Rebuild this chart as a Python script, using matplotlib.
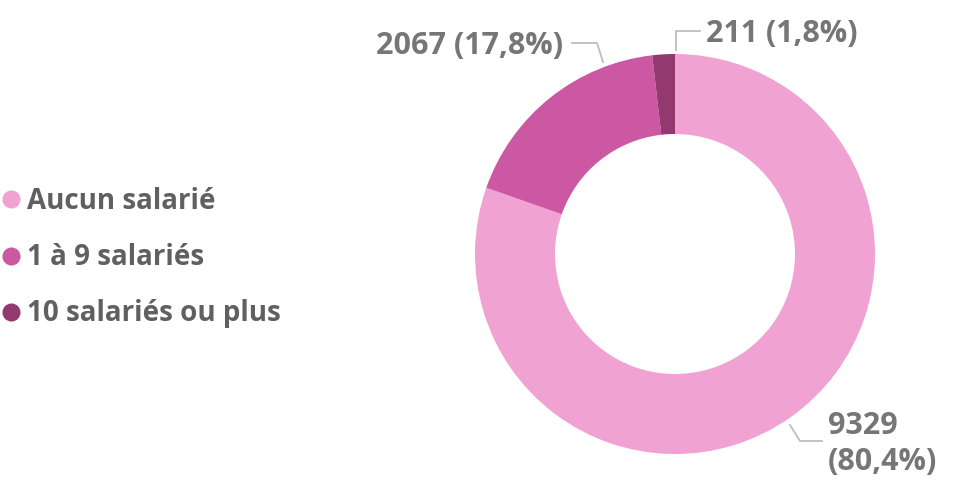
import matplotlib.pyplot as plt
from matplotlib.lines import Line2D

# data
categories = ["Aucun salarié", "1 à 9 salariés", "10 salariés ou plus"]
values = [9329, 2067, 211]
colors = ["#F0A2D2", "#CC57A3", "#943970"]

W, H = 955, 488
plt.rcParams["font.family"] = ["Open Sans", "DejaVu Sans"]

fig = plt.figure(figsize=(W / 100, H / 100), dpi=100)
ax = fig.add_axes([0, 0, 1, 1])
ax.axis("off")

cx, cy, r = 675, H - 254, 200
ax.pie(values, colors=colors, startangle=90, counterclock=False,
       center=(cx, cy), radius=r, wedgeprops=dict(width=80, linewidth=0))
ax.set_xlim(0, W)
ax.set_ylim(0, H)
ax.set_aspect("equal")

total = sum(values)


def lab(v, two_lines=False):
    pct = f"{v / total * 100:.1f}".replace(".", ",")
    sep = "\n" if two_lines else " "
    return f"{v}{sep}({pct}%)"


txt = dict(fontsize=22, color="#767676", fontweight="bold")
line = dict(color="#BDBDBD", lw=1.3)

# 9329
ax.plot([790, 800, 822], [H - 425, H - 441, H - 441], **line)
ax.text(828, H - 444, lab(values[0], True), ha="left", va="center",
        linespacing=1.22, **txt)
# 2067
ax.plot([572, 597, 603], [H - 43, H - 43, H - 62], **line)
ax.text(563, H - 46, lab(values[1]), ha="right", va="center", **txt)
# 211
ax.plot([676, 676, 700], [H - 50, H - 31, H - 31], **line)
ax.text(706, H - 34, lab(values[2]), ha="left", va="center", **txt)

handles = [Line2D([], [], marker="o", ls="", markersize=12,
                  markerfacecolor=c, markeredgecolor=c) for c in colors]
leg = fig.legend(handles, categories, loc="upper left",
                 bbox_to_anchor=(3 / W, 1 - 187 / H), frameon=False,
                 handlelength=0.6, handletextpad=0.25, labelspacing=0.98,
                 borderaxespad=0, borderpad=0,
                 prop=dict(size=20, weight="bold"))
for t in leg.get_texts():
    t.set_color("#606060")

fig.savefig("out.png", dpi=100)
